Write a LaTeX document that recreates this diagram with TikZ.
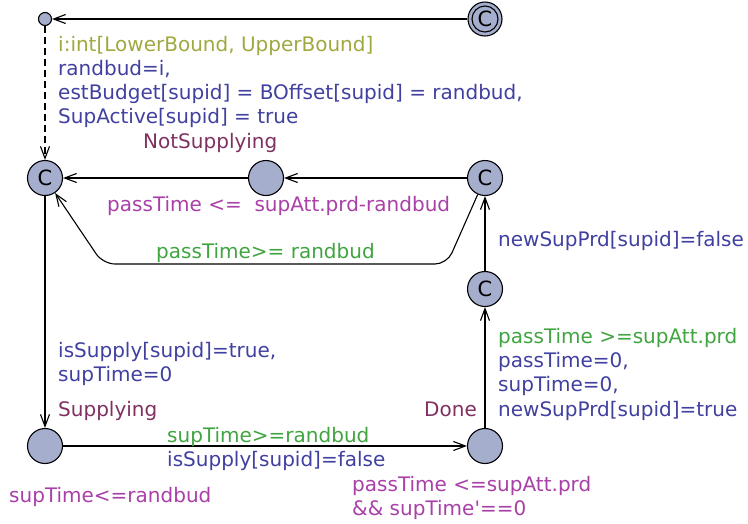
\documentclass[tikz,border=0pt]{standalone}
\usepackage{fontspec}
\setmainfont{DejaVu Sans}
\usetikzlibrary{arrows.meta,shapes.geometric}
\definecolor{locfill}{RGB}{166,174,206}
\definecolor{selcol}{RGB}{160,168,64}
\definecolor{asgcol}{RGB}{64,64,160}
\definecolor{grdcol}{RGB}{64,164,64}
\definecolor{invcol}{RGB}{168,64,168}
\definecolor{namecol}{RGB}{128,48,96}
\begin{document}
\begin{tikzpicture}[x=1pt,y=-1pt,
  loc/.style={circle,draw=black,line width=1.1pt,fill=locfill,minimum size=35pt,inner sep=0pt},
  comm/.style={loc,font=\fontsize{21}{21}\selectfont},
  edge/.style={draw=black,line width=1.1pt,-{Straight Barb[length=12pt,width=9pt,line width=1.1pt]}},
  lbl/.style={anchor=base west,inner sep=0pt,font=\fontsize{20}{24}\selectfont},
  lblr/.style={lbl,anchor=base east}]
\useasboundingbox (0,0) rectangle (748,523);

% locations
\node[circle,draw=black,line width=1.1pt,fill=locfill,minimum size=13pt,inner sep=0pt] (init0) at (45,19) {};
\node[circle,draw=black,line width=1.1pt,fill=locfill,minimum size=34pt,inner sep=0pt] (start) at (485,19) {};
\node[circle,draw=black,line width=1.1pt,minimum size=26pt,inner sep=0pt,font=\fontsize{21}{21}\selectfont] (startin) at (start) {C};
\node[comm] (nots) at (45,178) {C};
\node[loc] (mid) at (266,178) {};
\node[comm] (rc) at (485,178) {C};
\node[comm] (lc) at (485,289) {C};
\node[loc] (sup) at (45,446) {};
\node[loc] (done) at (485,446) {};

% bends of the return edge
\coordinate (br) at (447,264);
\coordinate (bl) at (103,264);

% transitions
\draw[edge] (start) -- (init0);
\draw[edge,dashed,dash pattern=on 7pt off 4pt] (init0) -- (nots);
\draw[edge] (rc) -- (mid);
\draw[edge] (mid) -- (nots);
\draw[edge,rounded corners=12pt] (rc) -- (br) -- (bl) -- (nots);
\draw[edge] (nots) -- (sup);
\draw[edge] (sup) -- (done);
\draw[edge] (done) -- (lc);
\draw[edge] (lc) -- (rc);

% labels
\node[lbl,text=selcol] at (58,51) {i:int[LowerBound, UpperBound]};
\node[lbl,text=asgcol] at (58,75) {randbud=i,};
\node[lbl,text=asgcol] at (58,99) {estBudget[supid] = BOffset[supid] = randbud,};
\node[lbl,text=asgcol] at (58,123) {SupActive[supid] = true};
\node[lbl,text=namecol] at (143,148) {NotSupplying};
\node[lbl,text=invcol] at (107,211) {passTime <= \ supAtt.prd-randbud};
\node[lbl,text=grdcol] at (156,258) {passTime>= randbud};
\node[lbl,text=asgcol] at (498,246) {newSupPrd[supid]=false};
\node[lbl,text=asgcol] at (58,357) {isSupply[supid]=true,};
\node[lbl,text=asgcol] at (58,381) {supTime=0};
\node[lbl,text=namecol] at (58,416) {Supplying};
\node[lblr,text=namecol] at (477,416) {Done};
\node[lbl,text=grdcol] at (498,343) {passTime >=supAtt.prd};
\node[lbl,text=asgcol] at (498,367) {passTime=0,};
\node[lbl,text=asgcol] at (498,391) {supTime=0,};
\node[lbl,text=asgcol] at (498,416) {newSupPrd[supid]=true};
\node[lbl,text=grdcol] at (167,442) {supTime>=randbud};
\node[lbl,text=asgcol] at (167,466) {isSupply[supid]=false};
\node[lbl,text=invcol] at (9,502) {supTime<=randbud};
\node[lbl,text=invcol] at (352,491) {passTime <=supAtt.prd};
\node[lbl,text=invcol] at (352,515) {\&\& supTime\textquotesingle==0};
\end{tikzpicture}
\end{document}
